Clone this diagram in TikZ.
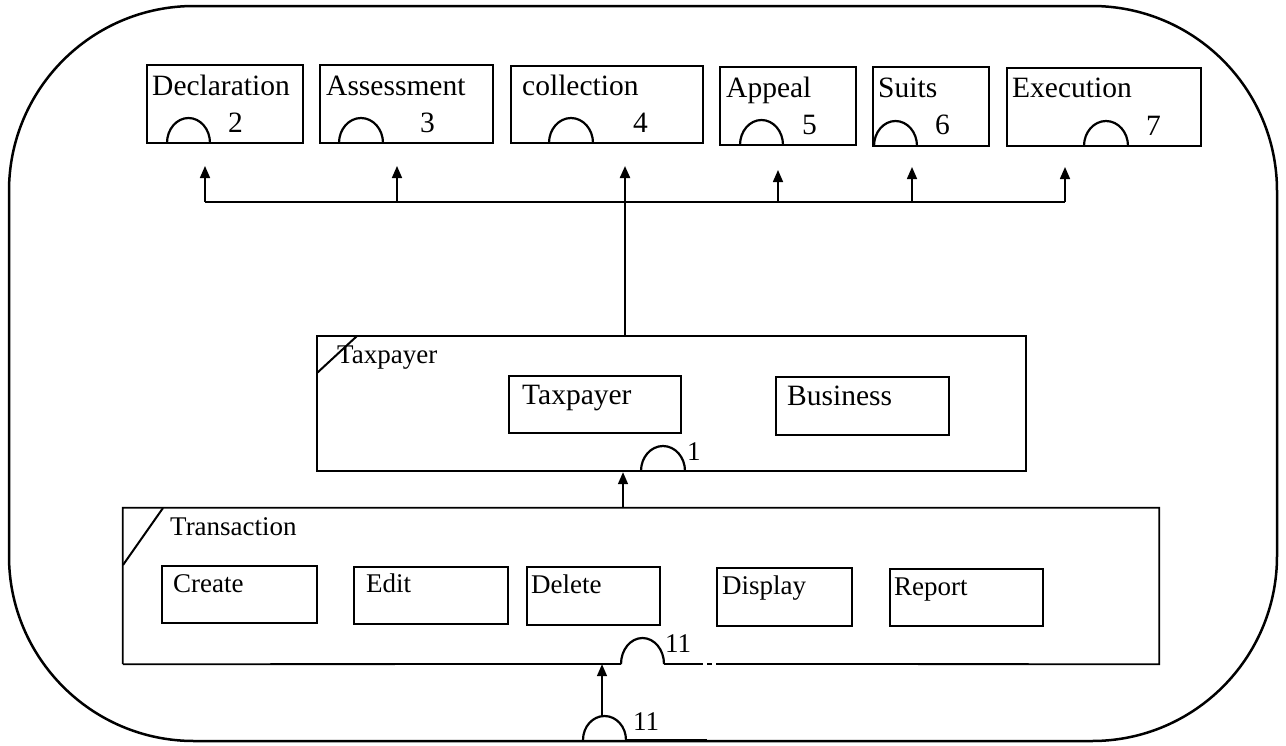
\documentclass[tikz,border=0pt]{standalone}
\usepackage{fontspec}
\setmainfont{Liberation Serif}
\usetikzlibrary{arrows.meta,fit}
\begin{document}
\begin{tikzpicture}[x=1pt,y=-1pt,
  box/.style={draw, line width=2pt, inner sep=0pt},
  sbox/.style={draw, line width=1.6pt, inner sep=0pt},
  lbl/.style={anchor=base west, inner sep=0pt, font=\fontsize{29.5}{33}\selectfont},
  slbl/.style={anchor=base west, inner sep=0pt, font=\fontsize{27}{31}\selectfont},
  arr/.style={line width=1.6pt, -{Triangle[length=12pt,width=10pt]}},
  cup/.style={line width=2.2pt},
  border/.style={line width=2.5pt, rounded corners=185pt},
]
\useasboundingbox (0,0) rectangle (1286,745);
% outer border
\draw[border] (9,6) rectangle (1277,741);

% top boxes
\node[box, fit={(147,65) (303,143)}] (decl) {};
\node[box, fit={(320,65) (493,143)}] (assess) {};
\node[box, fit={(511,66) (703,143)}] (coll) {};
\node[box, fit={(720,67) (856,145)}] (appeal) {};
\node[box, fit={(873,67) (989,146)}] (suits) {};
\node[box, fit={(1007,68) (1201,146)}] (exec) {};

\node[lbl] (declT) at (152,95) {Declaration};
\node[lbl] (assessT) at (326,95) {Assessment};
\node[lbl] (collT) at (522,95) {collection};
\node[lbl] (appealT) at (726,97) {Appeal};
\node[lbl] (suitsT) at (878,97) {Suits};
\node[lbl] (execT) at (1012,97) {Execution};

\node[lbl] (n2) at (228,132) {2};
\node[lbl] (n3) at (420,132) {3};
\node[lbl] (n4) at (633,132) {4};
\node[lbl] (n5) at (802,134) {5};
\node[lbl] (n6) at (935,134) {6};
\node[lbl] (n7) at (1146,135) {7};

\draw[cup] (167,143) arc[start angle=180, end angle=360, x radius=21.5, y radius=25];
\draw[cup] (339,143) arc[start angle=180, end angle=360, x radius=22, y radius=25];
\draw[cup] (549,143) arc[start angle=180, end angle=360, x radius=22, y radius=25];
\draw[cup] (740,145) arc[start angle=180, end angle=360, x radius=21.5, y radius=25];
\draw[cup] (874,146) arc[start angle=180, end angle=360, x radius=21.5, y radius=25];
\draw[cup] (1084,146) arc[start angle=180, end angle=360, x radius=22, y radius=25];

% bus and arrows
\coordinate (b2) at (205,202);
\coordinate (b3) at (397,202);
\coordinate (b4) at (625,202);
\coordinate (b5) at (778,202);
\coordinate (b6) at (912,202);
\coordinate (b7) at (1065,202);
\draw[line width=1.8pt] (b2) -- (b7);
\draw[arr, shorten >=22pt] (b2) -- (b2 |- decl.south);
\draw[arr, shorten >=22pt] (b3) -- (b3 |- assess.south);
\draw[arr, shorten >=24pt] (b5) -- (b5 |- appeal.south);
\draw[arr, shorten >=20pt] (b6) -- (b6 |- suits.south);
\draw[arr, shorten >=20pt] (b7) -- (b7 |- exec.south);

% taxpayer group
\node[box, line width=2.4pt, fit={(317,336) (1026,471)}] (tp) {};
\node[box, line width=2.4pt, fit={(509,376) (681,433)}] (tpin) {};
\node[box, line width=2.4pt, fit={(776,377) (949,435)}] (biz) {};
\draw[line width=2pt] (317,373) -- (357,336);
\node[slbl] (tpT) at (337,363) {Taxpayer};
\node[lbl] (tpinT) at (522,404) {Taxpayer};
\node[lbl] (bizT) at (787,405) {Business};
\draw[cup] (641,471) arc[start angle=180, end angle=360, x radius=22, y radius=25];
\node[slbl] (n1) at (687,460) {1};

\coordinate (c4) at (tp.north -| b4);
\draw[arr, line width=2.2pt, shorten >=22pt] (c4) -- (c4 |- coll.south);

% transaction group
\node[inner sep=0pt, fit={(123,508) (1159,664)}] (tr) {};
\draw[line width=1.8pt] (tr.south west) -- (tr.north west) -- (tr.north east) -- (tr.south east) -- (718,664);
\draw[line width=1.8pt] (tr.south west) -- (621,664);
\draw[line width=2.4pt] (664,664) -- (698,664);
\draw[line width=1.4pt, dash pattern=on 5pt off 4pt] (698,664) -- (718,664);
\draw[line width=2pt] (123,565) -- (163,508);
\node[slbl] (trT) at (170,535) {Transaction};

\node[sbox, fit={(162,566) (317,623)}] (create) {};
\node[sbox, fit={(354,567) (508,624)}] (edit) {};
\node[sbox, fit={(527,567) (660,625)}] (delete) {};
\node[sbox, fit={(717,568) (852,626)}] (display) {};
\node[sbox, fit={(890,569) (1043,626)}] (report) {};
\node[slbl] (createT) at (173,592) {Create};
\node[slbl] (editT) at (366,592) {Edit};
\node[slbl] (deleteT) at (531,593) {Delete};
\node[slbl] (displayT) at (722,594) {Display};
\node[slbl] (reportT) at (894,595) {Report};

\draw[cup] (621,664) arc[start angle=180, end angle=360, x radius=21.5, y radius=26];
\node[slbl] (n11a) at (665,652) {11};

\coordinate (t1) at (623,508);
\draw[arr] (t1) -- (t1 |- tp.south);

% bottom entry
\draw[cup] (583,740) arc[start angle=180, end angle=360, x radius=21.5, y radius=24];
\draw[line width=3pt] (626,740.5) -- (707,740.5);
\node[slbl] (n11b) at (633,730) {11};
\coordinate (e1) at (602,716);
\draw[arr] (e1) -- (e1 |- tr.south);
\end{tikzpicture}
\end{document}
